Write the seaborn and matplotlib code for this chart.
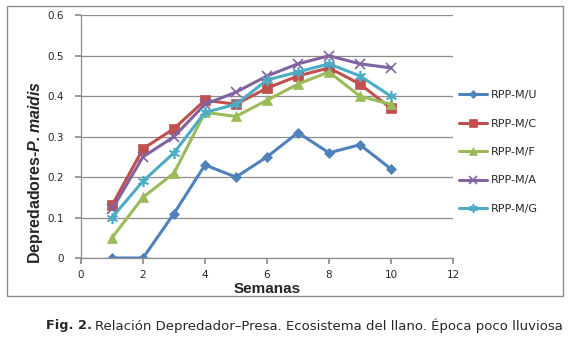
import matplotlib
matplotlib.use("Agg")
import matplotlib.pyplot as plt
import seaborn as sns
import pandas as pd
from matplotlib.patches import Rectangle

weeks = [1, 2, 3, 4, 5, 6, 7, 8, 9, 10]
rpp_u = [0.00, 0.00, 0.11, 0.23, 0.20, 0.25, 0.31, 0.26, 0.28, 0.22]
rpp_c = [0.13, 0.27, 0.32, 0.39, 0.38, 0.42, 0.45, 0.47, 0.43, 0.37]
rpp_f = [0.05, 0.15, 0.21, 0.36, 0.35, 0.39, 0.43, 0.46, 0.40, 0.38]
rpp_a = [0.12, 0.25, 0.30, 0.38, 0.41, 0.45, 0.48, 0.50, 0.48, 0.47]
rpp_g = [0.10, 0.19, 0.26, 0.36, 0.38, 0.44, 0.46, 0.48, 0.45, 0.40]
series_names = ["RPP-M/U", "RPP-M/C", "RPP-M/F", "RPP-M/A", "RPP-M/G"]
x_ticks = [0, 2, 4, 6, 8, 10, 12]
y_ticks = [0, 0.1, 0.2, 0.3, 0.4, 0.5, 0.6]

sns.set_theme(style="white")
plt.rcParams["font.family"] = ["DejaVu Sans"]
plt.rcParams["mathtext.fontset"] = "custom"
plt.rcParams["mathtext.bfit"] = "Liberation Sans:italic:bold"
plt.rcParams["mathtext.bf"] = "Liberation Sans:bold"

df = pd.DataFrame({"Semana": weeks * 5,
                   "Valor": rpp_u + rpp_c + rpp_f + rpp_a + rpp_g,
                   "Serie": sum([[n] * len(weeks) for n in series_names], [])})

colors = ["#4F81BD", "#C0504D", "#9BBB59", "#8064A2", "#4BACC6"]
asterisk = (6, 2, 0)
markers = ["D", "s", "^", "x", asterisk]
msizes = [5, 7, 7, 7, 8]

fig = plt.figure(figsize=(5.74, 3.38), dpi=100)
ax = fig.add_axes([81 / 574, 1 - 258 / 338, (453 - 81) / 574, (258 - 15.3) / 338])

for name, col, mk, ms in zip(series_names, colors, markers, msizes):
    sub = df[df["Serie"] == name]
    sns.lineplot(data=sub, x="Semana", y="Valor", ax=ax, color=col, marker=mk,
                 markersize=ms, linewidth=2.2, label=name,
                 markeredgecolor=col, markeredgewidth=1.2 if mk in ("x", asterisk) else 0.5)

ax.set_xlim(0, 12)
ax.set_ylim(0, 0.6)
ax.set_xticks(x_ticks)
ax.set_yticks(y_ticks)
ax.set_xticklabels([str(t) for t in x_ticks], fontsize=7.5)
ax.set_yticklabels(["0"] + [f"{t:.1f}" for t in y_ticks[1:]], fontsize=7.5)
ax.yaxis.grid(True, color="#8C8C8C", linewidth=0.9)
ax.xaxis.grid(False)
for s in ["top", "right"]:
    ax.spines[s].set_visible(False)
for s in ["left", "bottom"]:
    ax.spines[s].set_color("#8C8C8C")
    ax.spines[s].set_linewidth(0.9)
ax.tick_params(axis="x", which="both", bottom=True, length=4, color="#8C8C8C", pad=5)
ax.tick_params(axis="y", which="both", left=True, length=4, color="#8C8C8C", pad=8)
ax.set_xlabel("Semanas", fontsize=11, fontweight="bold", family="Liberation Sans")
ax.xaxis.set_label_coords(0.5, (258 - 289) / 242.7)
ax.xaxis.label.set_va("center")
ax.set_ylabel(r"Depredadores-$\mathbfit{P.maidis}$", fontsize=11.5, fontweight="bold",
              family="Liberation Sans")
ax.yaxis.set_label_coords((36 - 81) / 372, (258 - 172) / 242.7)
ax.yaxis.label.set_va("center")
ax.set_facecolor("white")

leg = ax.legend(loc="center left", bbox_to_anchor=((459 - 81) / 372, (258 - 152) / 242.7),
                frameon=False, fontsize=8, handlelength=2.5, labelspacing=1.66,
                handletextpad=0.35, borderaxespad=0, borderpad=0, markerscale=0.75)

fig.patches.append(Rectangle((7 / 574, 1 - 296 / 338), (563 - 7) / 574, (296 - 6) / 338,
                             transform=fig.transFigure, fill=False, edgecolor="#8C8C8C",
                             linewidth=1.0))

fig.text(46 / 574, 1 - 326 / 338, "Fig. 2.", fontsize=9.3, fontweight="bold", va="center", ha="left")
fig.text(95 / 574, 1 - 326 / 338,
         "Relación Depredador–Presa. Ecosistema del llano. Época poco lluviosa",
         fontsize=9.5, va="center", ha="left")

fig.savefig("out.png", dpi=100, facecolor="white")
